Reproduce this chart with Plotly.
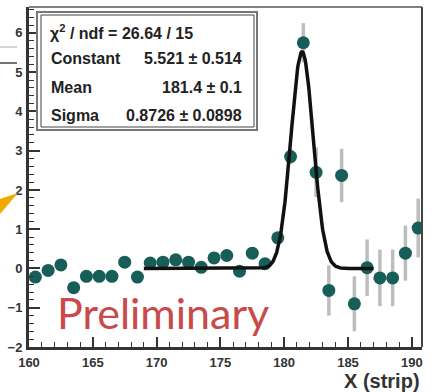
import numpy as np
import plotly.graph_objects as go

# ---- data ----
bin_centers = [160.5, 161.5, 162.5, 163.5, 164.5, 165.5, 166.5, 167.5, 168.5, 169.5,
               170.5, 171.5, 172.5, 173.5, 174.5, 175.5, 176.5, 177.5, 178.5, 179.5,
               180.5, 181.5, 182.5, 183.5, 184.5, 185.5, 186.5, 187.5, 188.5, 189.5, 190.5]
counts = [-0.22, -0.05, 0.09, -0.49, -0.20, -0.20, -0.20, 0.16, -0.22, 0.14,
          0.16, 0.22, 0.16, 0.03, 0.27, 0.33, -0.07, 0.39, 0.12, 0.78,
          2.85, 5.75, 2.45, -0.56, 2.37, -0.90, 0.02, -0.24, -0.24, 0.39, 1.03]
errors = [0.12, 0.12, 0.12, 0.12, 0.12, 0.12, 0.12, 0.12, 0.12, 0.12,
          0.12, 0.12, 0.12, 0.12, 0.12, 0.12, 0.12, 0.12, 0.12, 0.15,
          0.20, 0.50, 0.63, 0.64, 0.68, 0.70, 0.72, 0.72, 0.72, 0.70, 0.75]

fit_constant = 5.521
fit_mean = 181.4
fit_sigma = 0.8726
fit_range = [169.0, 187.0]

stats_labels = ["Constant", "Mean", "Sigma"]
stats_values = ["5.521 ± 0.514", "181.4 ± 0.1", "0.8726 ± 0.0898"]
chi2_text = "χ<sup>2</sup> / ndf = 26.64 / 15"

x_range = [160, 190.8]
y_range = [-2, 6.66]

# ---- layout geometry (pixels) ----
W, H = 432, 392
L, R, T, B = 29, 422, 7, 347


def px(x):
    return (x - L) / (R - L)


def py(y):
    return (B - y) / (B - T)


fx = np.linspace(fit_range[0], fit_range[1], 400)
fy = fit_constant * np.exp(-0.5 * ((fx - fit_mean) / fit_sigma) ** 2)

teal = "#175e58"

fig = go.Figure()
fig.add_trace(go.Scatter(
    x=bin_centers, y=counts, mode="markers",
    marker=dict(size=13, color=teal, line=dict(width=0)),
    error_y=dict(type="data", array=errors, visible=True, color="#bdbdbd",
                 thickness=3.5, width=0),
    showlegend=False, hoverinfo="skip"))
fig.add_trace(go.Scatter(
    x=fx, y=fy, mode="lines", line=dict(color="#111111", width=3.5),
    showlegend=False, hoverinfo="skip"))

tickfont = dict(family="Liberation Sans", size=13, color="#333333", weight="bold")

fig.update_layout(
    width=W, height=H,
    margin=dict(l=L, r=W - R, t=T, b=H - B, pad=0),
    paper_bgcolor="white", plot_bgcolor="white",
    xaxis=dict(range=x_range, showgrid=False, zeroline=False,
               tickmode="linear", tick0=160, dtick=5,
               ticks="inside", ticklen=10, tickwidth=1.5, tickcolor="#333",
               minor=dict(ticks="inside", ticklen=5, tickwidth=1.2, tickcolor="#333",
                          dtick=1, tick0=160, showgrid=False),
               showline=True, linewidth=3, linecolor="#333",
               tickfont=tickfont, ticklabelstandoff=1),
    yaxis=dict(range=y_range, showgrid=False, zeroline=False,
               tickmode="linear", tick0=0, dtick=1,
               ticks="inside", ticklen=11, tickwidth=1.5, tickcolor="#333",
               minor=dict(ticks="inside", ticklen=5, tickwidth=1.2, tickcolor="#333",
                          dtick=0.2, tick0=0, showgrid=False),
               showline=True, linewidth=3, linecolor="#333",
               tickfont=tickfont, ticklabelstandoff=1),
    font=dict(family="Liberation Sans"),
)

shapes = []
# frame top/right
shapes.append(dict(type="line", xref="paper", yref="paper", x0=0, x1=1, y0=1, y1=1,
                   line=dict(color="#555", width=1.5)))
shapes.append(dict(type="line", xref="paper", yref="paper", x0=1, x1=1, y0=0, y1=1,
                   line=dict(color="#444", width=2)))
# stats box (double border)
shapes.append(dict(type="rect", xref="paper", yref="paper",
                   x0=px(37), x1=px(257), y0=py(130), y1=py(12),
                   line=dict(color="#777", width=2), fillcolor="white", layer="above"))
shapes.append(dict(type="rect", xref="paper", yref="paper",
                   x0=px(41), x1=px(254), y0=py(127), y1=py(15),
                   line=dict(color="#444", width=1)))
# slide decorations on the left
shapes.append(dict(type="path", xref="paper", yref="paper",
                   path=f"M {px(0)},{py(199)} L {px(18)},{py(193)} L {px(0)},{py(214)} Z",
                   fillcolor="#f2a900", line=dict(width=0)))
shapes.append(dict(type="line", xref="paper", yref="paper", x0=px(0), x1=px(17),
                   y0=py(47), y1=py(47), line=dict(color="#aaa", width=1)))
shapes.append(dict(type="line", xref="paper", yref="paper", x0=px(0), x1=px(17),
                   y0=py(63), y1=py(63), line=dict(color="#444", width=1.5)))
fig.update_layout(shapes=shapes)

anns = []
statfont = dict(family="Liberation Sans", size=16, color="#222", weight="bold")
anns.append(dict(text=chi2_text, xref="paper", yref="paper",
                 x=px(48), y=py(32), xanchor="left", yanchor="middle",
                 showarrow=False, font=statfont))
rows_y = [58, 87, 115]
for lab, val, yy in zip(stats_labels, stats_values, rows_y):
    anns.append(dict(text=lab, xref="paper", yref="paper",
                     x=px(49), y=py(yy), xanchor="left", yanchor="middle",
                     showarrow=False, font=statfont))
    anns.append(dict(text=val, xref="paper", yref="paper",
                     x=px(244), y=py(yy), xanchor="right", yanchor="middle",
                     showarrow=False, font=statfont))
anns.append(dict(text="X (strip)", xref="paper", yref="paper",
                 x=px(421), y=py(393), xanchor="right", yanchor="bottom",
                 showarrow=False, borderpad=0,
                 font=dict(family="Liberation Sans", size=20, color="#333", weight="bold")))
anns.append(dict(text="Preliminary", xref="paper", yref="paper",
                 x=px(163), y=py(312), xanchor="center", yanchor="middle",
                 showarrow=False, font=dict(family="Lato", size=43, color="#c84a4a")))
fig.update_layout(annotations=anns)

fig.write_html("out.html")
